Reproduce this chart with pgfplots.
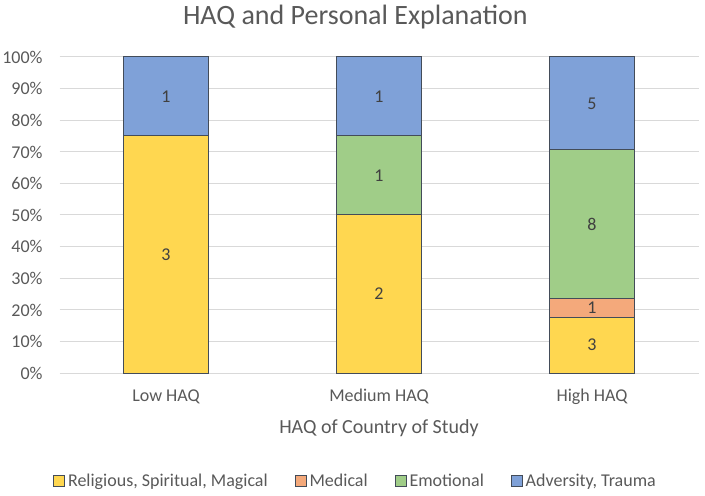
\documentclass[border=0pt]{standalone}
\usepackage{fontspec}
\setmainfont{Carlito}
\usepackage{pgfplots}
\pgfplotsset{compat=1.18}
\definecolor{relc}{HTML}{FFD750}
\definecolor{medc}{HTML}{F4A97B}
\definecolor{emoc}{HTML}{A0CD88}
\definecolor{advc}{HTML}{7FA1D8}
\definecolor{edgec}{HTML}{434C59}
\definecolor{gridc}{HTML}{D9D9D9}
\definecolor{txtc}{HTML}{595959}
\definecolor{lblc}{HTML}{404040}
\pgfplotsset{
  common/.style={
    at={(0,0)}, anchor=south west,
    scale only axis, width=639bp, height=316bp,
    xmin=-0.5, xmax=2.5, ymin=0, ymax=100,
  }
}
\begin{document}
\begin{tikzpicture}
\begin{axis}[
  common,
  ybar stacked, bar width=85bp,
  xtick={0,1,2}, xticklabels={Low HAQ,Medium HAQ,High HAQ},
  ytick={0,10,...,100},
  yticklabel={\pgfmathprintnumber{\tick}\%},
  /pgf/number format/assume math mode=true,
  ymajorgrids, grid style={draw=gridc, line width=1bp},
  axis line style={draw=none}, major tick length=0pt,
  tick label style={font=\fontsize{18bp}{21bp}\selectfont, text=txtc},
  yticklabel style={anchor=base east, inner sep=0pt, xshift=-16.8bp, yshift=-6.3bp},
  xticklabel style={anchor=base, inner sep=0pt, yshift=-28.5bp},
  title={HAQ and Personal Explanation},
  title style={at={(0.463,1)}, anchor=base, inner sep=0pt, yshift=27bp, font=\fontsize{28bp}{32bp}\selectfont, text=txtc},
  xlabel={HAQ of Country of Study},
  xlabel style={at={(0.5,0)}, anchor=base, inner sep=0pt, yshift=-60bp, font=\fontsize{20bp}{24bp}\selectfont, text=txtc},
  legend columns=4,
  legend style={at={(0.464,-0.3415)}, anchor=center, draw=none, fill=none,
    font=\fontsize{18bp}{21bp}\selectfont, text=txtc,
    nodes={inner xsep=3bp, inner ysep=0pt},
    /tikz/every even column/.append style={column sep=24bp}},
  legend image code/.code={\draw[#1, draw=edgec, line width=0.8bp] (0bp,-5.5bp) rectangle (11bp,5.5bp);},
]
\addplot[fill=relc, draw=edgec, line width=1bp] coordinates {(0,75) (1,50) (2,17.647)};
\addplot[fill=medc, draw=edgec, line width=1bp] coordinates {(0,0) (1,0) (2,5.882)};
\addplot[fill=emoc, draw=edgec, line width=1bp] coordinates {(0,0) (1,25) (2,47.059)};
\addplot[fill=advc, draw=edgec, line width=1bp] coordinates {(0,25) (1,25) (2,29.412)};
\addlegendentry{Religious, Spiritual, Magical}
\addlegendentry{Medical}
\addlegendentry{Emotional}
\addlegendentry{Adversity, Trauma}
\end{axis}
\begin{axis}[
  common, hide axis,
  point meta=explicit symbolic,
  nodes near coords,
  every node near coord/.style={anchor=center, inner sep=0pt, font=\fontsize{18bp}{21bp}\selectfont, text=lblc},
]
\addplot[draw=none, mark=none] coordinates {
  (0,37.5) [3] (0,87.5) [1]
  (1,25) [2] (1,62.5) [1] (1,87.5) [1]
  (2,8.824) [3] (2,20.588) [1] (2,47.059) [8] (2,85.294) [5]
};
\end{axis}
\pgfresetboundingbox
\path[use as bounding box] (-59.5bp,-123bp) rectangle (645.5bp,373bp);
\end{tikzpicture}
\end{document}
